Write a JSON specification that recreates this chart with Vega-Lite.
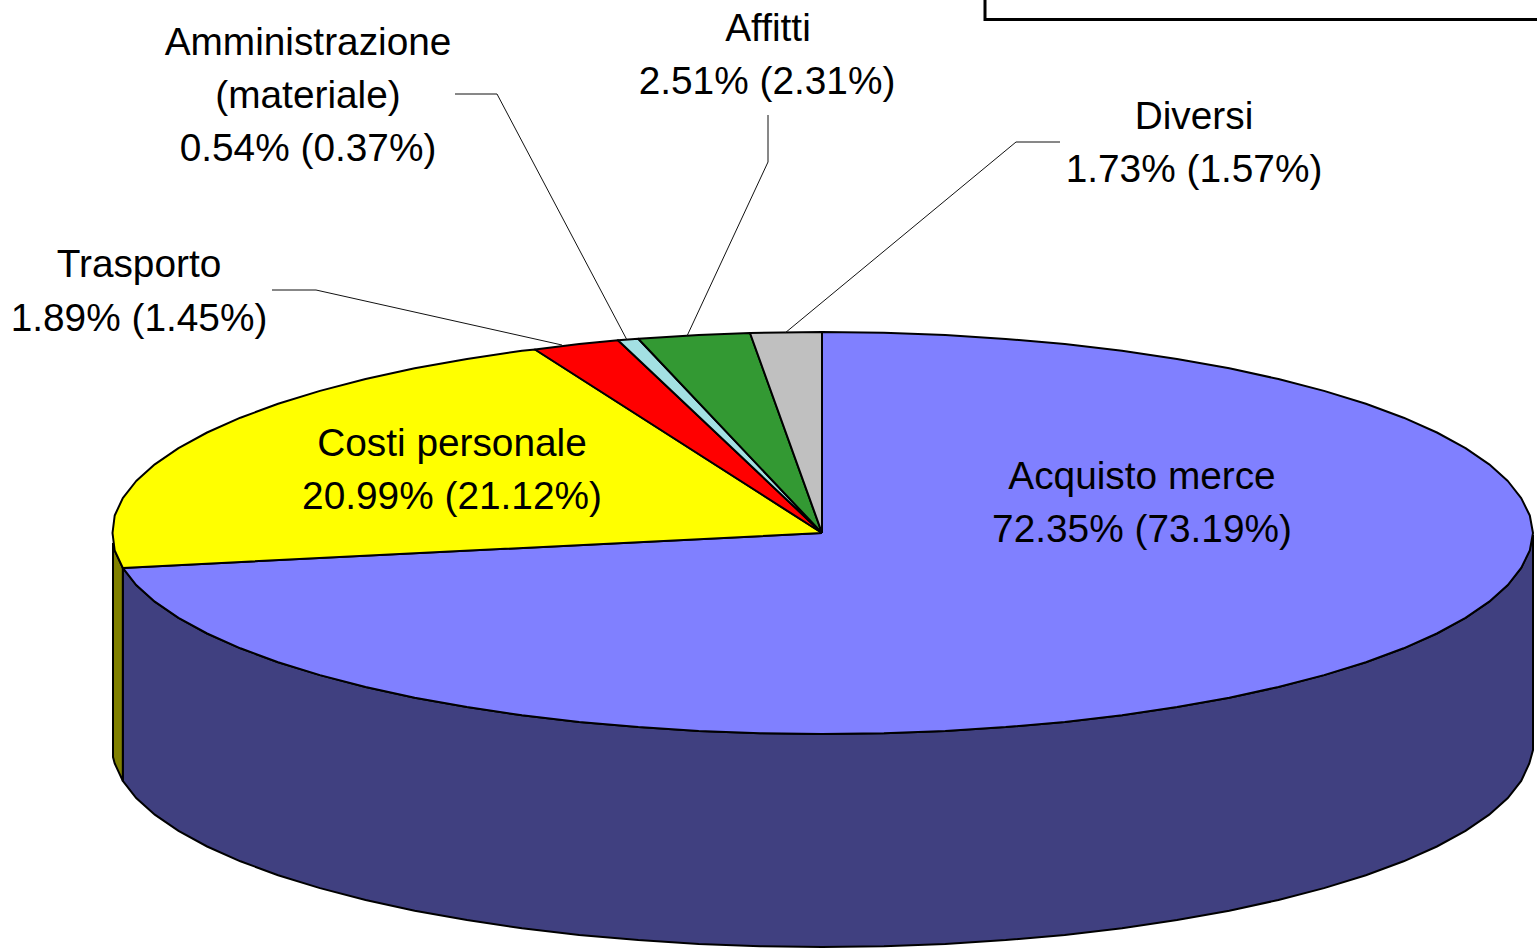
{"$schema":"https://vega.github.io/schema/vega-lite/v6.json","width":1537,"height":952,"autosize":{"type":"fit","contains":"padding"},"padding":0,"background":"white","config":{"view":{"stroke":null}},
"datasets":{
"wall":[
{"s":"Acquisto merce","x":1533,"y":535,"y2":750},{"s":"Acquisto merce","x":1529.3,"y":550.5,"y2":763.5},{"s":"Acquisto merce","x":1521.2,"y":567.9,"y2":780.9},{"s":"Acquisto merce","x":1507.8,"y":585,"y2":798},{"s":"Acquisto merce","x":1489.2,"y":601.7,"y2":814.7},{"s":"Acquisto merce","x":1465.5,"y":617.9,"y2":830.9},{"s":"Acquisto merce","x":1436.9,"y":633.5,"y2":846.5},{"s":"Acquisto merce","x":1403.6,"y":648.3,"y2":861.3},{"s":"Acquisto merce","x":1365.9,"y":662.2,"y2":875.2},{"s":"Acquisto merce","x":1324,"y":675.1,"y2":888.1},{"s":"Acquisto merce","x":1278.4,"y":687,"y2":900},{"s":"Acquisto merce","x":1229.3,"y":697.7,"y2":910.7},{"s":"Acquisto merce","x":1177,"y":707.1,"y2":920.1},{"s":"Acquisto merce","x":1122,"y":715.2,"y2":928.2},{"s":"Acquisto merce","x":1064.8,"y":721.9,"y2":934.9},{"s":"Acquisto merce","x":1005.7,"y":727.1,"y2":940.1},{"s":"Acquisto merce","x":945.3,"y":730.9,"y2":943.9},{"s":"Acquisto merce","x":883.9,"y":733.2,"y2":946.2},{"s":"Acquisto merce","x":822,"y":734,"y2":947},{"s":"Acquisto merce","x":760.1,"y":733.2,"y2":946.2},{"s":"Acquisto merce","x":698.7,"y":730.9,"y2":943.9},{"s":"Acquisto merce","x":638.3,"y":727.1,"y2":940.1},{"s":"Acquisto merce","x":579.2,"y":721.9,"y2":934.9},{"s":"Acquisto merce","x":522,"y":715.2,"y2":928.2},{"s":"Acquisto merce","x":467,"y":707.1,"y2":920.1},{"s":"Acquisto merce","x":414.7,"y":697.7,"y2":910.7},{"s":"Acquisto merce","x":365.6,"y":687,"y2":900},{"s":"Acquisto merce","x":320,"y":675.1,"y2":888.1},{"s":"Acquisto merce","x":278.1,"y":662.2,"y2":875.2},{"s":"Acquisto merce","x":240.4,"y":648.3,"y2":861.3},{"s":"Acquisto merce","x":207.1,"y":633.5,"y2":846.5},{"s":"Acquisto merce","x":178.5,"y":617.9,"y2":830.9},{"s":"Acquisto merce","x":154.8,"y":601.7,"y2":814.7},{"s":"Acquisto merce","x":136.2,"y":585,"y2":798},{"s":"Acquisto merce","x":122.8,"y":567.9,"y2":780.9},
{"s":"Costi personale","x":122.8,"y":567.9,"y2":780.9},{"s":"Costi personale","x":114.7,"y":550.5,"y2":763.5},{"s":"Costi personale","x":113,"y":543,"y2":757}
],
"top":[
{"s":"Acquisto merce","i":0,"x":822,"y":533},{"s":"Acquisto merce","i":1,"x":822,"y":332},{"s":"Acquisto merce","i":2,"x":883.9,"y":332.8},{"s":"Acquisto merce","i":3,"x":945.3,"y":335.1},{"s":"Acquisto merce","i":4,"x":1005.7,"y":338.9},{"s":"Acquisto merce","i":5,"x":1064.8,"y":344.1},{"s":"Acquisto merce","i":6,"x":1122,"y":350.8},{"s":"Acquisto merce","i":7,"x":1177,"y":358.9},{"s":"Acquisto merce","i":8,"x":1229.3,"y":368.3},{"s":"Acquisto merce","i":9,"x":1278.4,"y":379},{"s":"Acquisto merce","i":10,"x":1324,"y":390.9},{"s":"Acquisto merce","i":11,"x":1365.9,"y":403.8},{"s":"Acquisto merce","i":12,"x":1403.6,"y":417.7},{"s":"Acquisto merce","i":13,"x":1436.9,"y":432.5},{"s":"Acquisto merce","i":14,"x":1465.5,"y":448.1},{"s":"Acquisto merce","i":15,"x":1489.2,"y":464.3},{"s":"Acquisto merce","i":16,"x":1507.8,"y":481},{"s":"Acquisto merce","i":17,"x":1521.2,"y":498.1},{"s":"Acquisto merce","i":18,"x":1529.8,"y":515.5},{"s":"Acquisto merce","i":19,"x":1533,"y":533},{"s":"Acquisto merce","i":20,"x":1529.8,"y":550.5},{"s":"Acquisto merce","i":21,"x":1521.2,"y":567.9},{"s":"Acquisto merce","i":22,"x":1507.8,"y":585},{"s":"Acquisto merce","i":23,"x":1489.2,"y":601.7},{"s":"Acquisto merce","i":24,"x":1465.5,"y":617.9},{"s":"Acquisto merce","i":25,"x":1436.9,"y":633.5},{"s":"Acquisto merce","i":26,"x":1403.6,"y":648.3},{"s":"Acquisto merce","i":27,"x":1365.9,"y":662.2},{"s":"Acquisto merce","i":28,"x":1324,"y":675.1},{"s":"Acquisto merce","i":29,"x":1278.4,"y":687},{"s":"Acquisto merce","i":30,"x":1229.3,"y":697.7},{"s":"Acquisto merce","i":31,"x":1177,"y":707.1},{"s":"Acquisto merce","i":32,"x":1122,"y":715.2},{"s":"Acquisto merce","i":33,"x":1064.8,"y":721.9},{"s":"Acquisto merce","i":34,"x":1005.7,"y":727.1},{"s":"Acquisto merce","i":35,"x":945.3,"y":730.9},{"s":"Acquisto merce","i":36,"x":883.9,"y":733.2},{"s":"Acquisto merce","i":37,"x":822,"y":734},{"s":"Acquisto merce","i":38,"x":760.1,"y":733.2},{"s":"Acquisto merce","i":39,"x":698.7,"y":730.9},{"s":"Acquisto merce","i":40,"x":638.3,"y":727.1},{"s":"Acquisto merce","i":41,"x":579.2,"y":721.9},{"s":"Acquisto merce","i":42,"x":522,"y":715.2},{"s":"Acquisto merce","i":43,"x":467,"y":707.1},{"s":"Acquisto merce","i":44,"x":414.7,"y":697.7},{"s":"Acquisto merce","i":45,"x":365.6,"y":687},{"s":"Acquisto merce","i":46,"x":320,"y":675.1},{"s":"Acquisto merce","i":47,"x":278.1,"y":662.2},{"s":"Acquisto merce","i":48,"x":240.4,"y":648.3},{"s":"Acquisto merce","i":49,"x":207.1,"y":633.5},{"s":"Acquisto merce","i":50,"x":178.5,"y":617.9},{"s":"Acquisto merce","i":51,"x":154.8,"y":601.7},{"s":"Acquisto merce","i":52,"x":136.2,"y":585},{"s":"Acquisto merce","i":53,"x":122.8,"y":567.9},{"s":"Acquisto merce","i":54,"x":822,"y":533},
{"s":"Costi personale","i":0,"x":822,"y":533},{"s":"Costi personale","i":1,"x":122.8,"y":567.9},{"s":"Costi personale","i":2,"x":114.7,"y":550.5},{"s":"Costi personale","i":3,"x":112.5,"y":533},{"s":"Costi personale","i":4,"x":114.7,"y":515.5},{"s":"Costi personale","i":5,"x":122.8,"y":498.1},{"s":"Costi personale","i":6,"x":136.2,"y":481},{"s":"Costi personale","i":7,"x":154.8,"y":464.3},{"s":"Costi personale","i":8,"x":178.5,"y":448.1},{"s":"Costi personale","i":9,"x":207.1,"y":432.5},{"s":"Costi personale","i":10,"x":240.4,"y":417.7},{"s":"Costi personale","i":11,"x":278.1,"y":403.8},{"s":"Costi personale","i":12,"x":320,"y":390.9},{"s":"Costi personale","i":13,"x":365.6,"y":379},{"s":"Costi personale","i":14,"x":414.7,"y":368.3},{"s":"Costi personale","i":15,"x":467,"y":358.9},{"s":"Costi personale","i":16,"x":522,"y":350.8},{"s":"Costi personale","i":17,"x":535,"y":349.5},{"s":"Costi personale","i":18,"x":822,"y":533},
{"s":"Trasporto","i":0,"x":822,"y":533},{"s":"Trasporto","i":1,"x":535,"y":349.5},{"s":"Trasporto","i":2,"x":579.2,"y":344.1},{"s":"Trasporto","i":3,"x":618,"y":340.3},{"s":"Trasporto","i":4,"x":822,"y":533},
{"s":"Amministrazione","i":0,"x":822,"y":533},{"s":"Amministrazione","i":1,"x":618,"y":340.3},{"s":"Amministrazione","i":2,"x":638.3,"y":338.7},{"s":"Amministrazione","i":3,"x":822,"y":533},
{"s":"Affitti","i":0,"x":822,"y":533},{"s":"Affitti","i":1,"x":638.3,"y":338.7},{"s":"Affitti","i":2,"x":698.7,"y":335.1},{"s":"Affitti","i":3,"x":750,"y":333},{"s":"Affitti","i":4,"x":822,"y":533},
{"s":"Diversi","i":0,"x":822,"y":533},{"s":"Diversi","i":1,"x":750,"y":333},{"s":"Diversi","i":2,"x":822,"y":332},{"s":"Diversi","i":3,"x":822,"y":533}
],
"leaders":[
{"s":"Trasporto","i":0,"x":272,"y":290},{"s":"Trasporto","i":1,"x":316,"y":290},{"s":"Trasporto","i":2,"x":562,"y":345},
{"s":"Amministrazione","i":0,"x":455,"y":94},{"s":"Amministrazione","i":1,"x":497,"y":94},{"s":"Amministrazione","i":2,"x":627,"y":340},
{"s":"Affitti","i":0,"x":768,"y":115},{"s":"Affitti","i":1,"x":768,"y":162},{"s":"Affitti","i":2,"x":687,"y":336},
{"s":"Diversi","i":0,"x":1060,"y":142},{"s":"Diversi","i":1,"x":1016,"y":142},{"s":"Diversi","i":2,"x":785,"y":333}
],
"box":[{"i":0,"x":985,"y":-5},{"i":1,"x":985,"y":19.5},{"i":2,"x":1545,"y":19.5}],
"labels":[
{"t":"Amministrazione","x":308,"y":55},{"t":"(materiale)","x":308,"y":108},{"t":"0.54% (0.37%)","x":308,"y":161},
{"t":"Affitti","x":768,"y":41},{"t":"2.51% (2.31%)","x":767,"y":94},
{"t":"Diversi","x":1194,"y":129},{"t":"1.73% (1.57%)","x":1194,"y":182},
{"t":"Trasporto","x":139,"y":277},{"t":"1.89% (1.45%)","x":139,"y":331},
{"t":"Costi personale","x":452,"y":456},{"t":"20.99% (21.12%)","x":452,"y":509},
{"t":"Acquisto merce","x":1142,"y":489},{"t":"72.35% (73.19%)","x":1142,"y":542}
]},
"layer":[
{"data":{"name":"wall"},"mark":{"type":"area","stroke":"black","strokeWidth":2,"clip":true},
"encoding":{"x":{"field":"x","type":"quantitative","scale":{"domain":[0,1537],"nice":false,"zero":false},"axis":null},"y":{"field":"y","type":"quantitative","scale":{"domain":[952,0],"nice":false,"zero":false},"axis":null},"y2":{"field":"y2"},
"fill":{"field":"s","type":"nominal","scale":{"domain":["Acquisto merce","Costi personale"],"range":["#404080","#808000"]},"legend":null}}},
{"data":{"name":"top"},"mark":{"type":"line","stroke":"black","strokeWidth":2,"strokeJoin":"round"},
"encoding":{"x":{"field":"x","type":"quantitative","axis":null},"y":{"field":"y","type":"quantitative","axis":null},"order":{"field":"i","type":"quantitative"},
"fill":{"field":"s","type":"nominal","scale":{"domain":["Acquisto merce","Costi personale","Trasporto","Amministrazione","Affitti","Diversi"],"range":["#8080ff","#ffff00","#ff0000","#a3e0e3","#339933","#c0c0c0"]},"legend":null}}},
{"data":{"name":"leaders"},"mark":{"type":"line","stroke":"#111111","strokeWidth":1},
"encoding":{"x":{"field":"x","type":"quantitative","axis":null},"y":{"field":"y","type":"quantitative","axis":null},"order":{"field":"i","type":"quantitative"},"detail":{"field":"s"}}},
{"data":{"name":"box"},"mark":{"type":"line","stroke":"black","strokeWidth":3,"clip":true},
"encoding":{"x":{"field":"x","type":"quantitative","axis":null},"y":{"field":"y","type":"quantitative","axis":null},"order":{"field":"i","type":"quantitative"}}},
{"data":{"name":"labels"},"mark":{"type":"text","font":"Liberation Sans","fontSize":38.8,"align":"center","baseline":"alphabetic","color":"black"},
"encoding":{"x":{"field":"x","type":"quantitative","axis":null},"y":{"field":"y","type":"quantitative","axis":null},"text":{"field":"t"}}}
],
"resolve":{"scale":{"fill":"independent"}}
}
